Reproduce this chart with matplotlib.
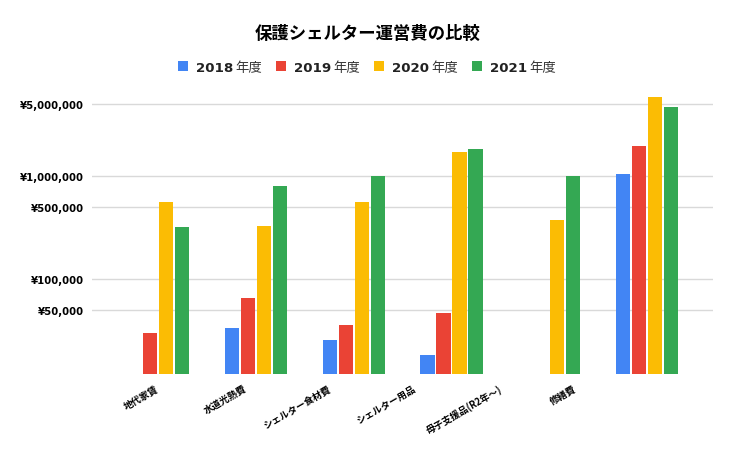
import numpy as np
import matplotlib
matplotlib.use("Agg")
import matplotlib.pyplot as plt
from matplotlib.transforms import ScaledTranslation

plt.rcParams['font.family'] = ['DejaVu Sans', 'Noto Sans CJK JP']

# data (log scale)
categories = ['地代家賃', '水道光熱費', 'シェルター食材費', 'シェルター用品', '母子支援品(R2年～)', '修繕費']
years = ['2018', '2019', '2020', '2021']
v2018 = [np.nan, 33700, 25600, 18500, np.nan, 1045000]
v2019 = [30000, 66000, 35700, 47000, np.nan, 1980000]
v2020 = [563000, 331000, 563000, 1730000, 379000, 5930000]
v2021 = [320000, 811000, 995000, 1830000, 1000000, 4740000]
yticks = [50000, 100000, 500000, 1000000, 5000000]
ytick_labels = ['¥50,000', '¥100,000', '¥500,000', '¥1,000,000', '¥5,000,000']

colors = ['#4285F4', '#EA4335', '#FBBC04', '#34A853']
series = [v2018, v2019, v2020, v2021]

fig = plt.figure(figsize=(7.36, 4.56), dpi=100)
ax = fig.add_axes([0.125, 0.178, 0.844, 0.625])
ax.set_yscale('log')

x = np.arange(len(categories))
step = 0.1636
for i in range(4):
    ax.bar(x + (i - 1.5) * step, series[i], width=0.145, color=colors[i],
           label=years[i], zorder=3)

ax.set_ylim(12100, 7.05e6)
ax.set_xlim(-0.675, 5.675)
ax.set_yticks(yticks)
ax.set_yticklabels(ytick_labels, fontsize=7.3, fontweight='bold')
ax.yaxis.set_minor_locator(matplotlib.ticker.NullLocator())
ax.grid(axis='y', color='#d9d9d9', linewidth=1, zorder=0)
ax.tick_params(axis='both', length=0)
ax.tick_params(axis='y', pad=6)
for s in ax.spines.values():
    s.set_visible(False)

ax.set_xticks(x)
ax.set_xticklabels(categories, rotation=30, ha='right', rotation_mode='anchor',
                   fontsize=6.8, fontweight='bold', family=['Noto Sans CJK JP'])
# google sheets shifts the labels a bit to the left
shift = [3, 13, 26, 39, 51, 74]
for lab, d in zip(ax.get_xticklabels(), shift):
    lab.set_transform(lab.get_transform() + ScaledTranslation(-d / 100, -4 / 100, fig.dpi_scale_trans))

fig.text(0.5, 1 - 34 / 456, '保護シェルター運営費の比較', ha='center', va='center',
         fontsize=12.5, fontweight='bold', family=['Noto Sans CJK JP'])

leg = fig.legend(loc='center', bbox_to_anchor=(0.479, 1 - 68 / 456), ncol=4, frameon=False,
                 fontsize=9.6, handlelength=0.75, handleheight=0.75, handletextpad=0.6,
                 columnspacing=3.2, borderaxespad=0)
for t in leg.get_texts():
    t.set_fontweight('bold')
    t.set_color('#222222')
    # "年度" in regular weight right after the bold year
    fig.add_artist(plt.Annotation('年度', xy=(1, 0.5), xycoords=t, xytext=(1.5, 0),
                                  textcoords='offset points', va='center', ha='left',
                                  fontsize=9.6, color='#333333', family=['Noto Sans CJK JP'],
                                  zorder=10))

plt.savefig('out.png', dpi=100)
